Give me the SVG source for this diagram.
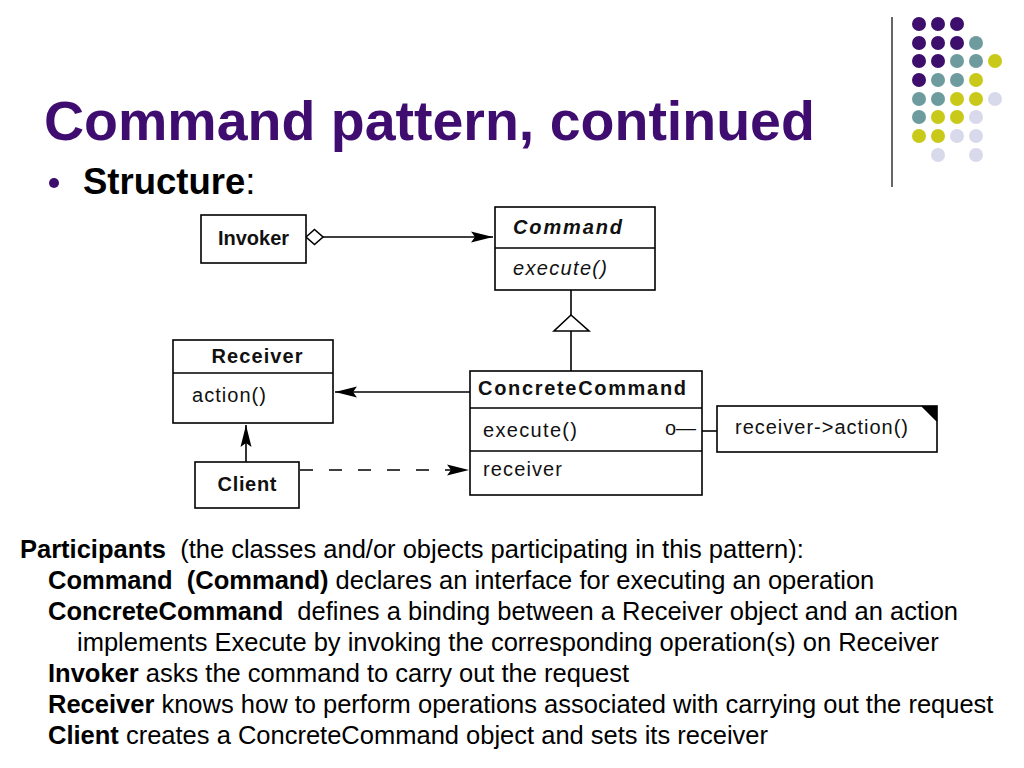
<svg xmlns="http://www.w3.org/2000/svg" width="1024" height="768" viewBox="0 0 1024 768">
<defs>
<style>
.box{fill:#fff;stroke:#000;stroke-width:1.6}
.ln{fill:none;stroke:#000;stroke-width:1.6}
.d{font-family:"Liberation Sans",Arial,sans-serif;font-size:20px;fill:#111}
.b{font-weight:bold}
.i{font-style:italic}
.body{font-family:"Liberation Sans",Arial,sans-serif;font-size:25.5px;fill:#000}
.p{fill:#3d0e6b}.t{fill:#6e9c9e}.y{fill:#c9c91a}.l{fill:#d9d9ec}
</style>
<marker id="arr" viewBox="-23 -6 24 12" refX="0" refY="0" markerWidth="24" markerHeight="12" orient="auto" markerUnits="userSpaceOnUse">
<path d="M0,0 L-22,-5.5 L-18,0 L-22,5.5 Z" fill="#000"/>
</marker>
</defs>
<rect width="1024" height="768" fill="#fff"/>

<g id="decoration">
<line x1="892" y1="17" x2="892" y2="187" stroke="#333" stroke-width="1.5"/>
<circle class="p" cx="919" cy="24" r="7"/><circle class="p" cx="938" cy="24" r="7"/><circle class="p" cx="957" cy="24" r="7"/>
<circle class="p" cx="919" cy="43" r="7"/><circle class="p" cx="938" cy="43" r="7"/><circle class="p" cx="957" cy="43" r="7"/><circle class="t" cx="976" cy="43" r="7"/>
<circle class="p" cx="919" cy="61" r="7"/><circle class="p" cx="938" cy="61" r="7"/><circle class="t" cx="957" cy="61" r="7"/><circle class="t" cx="976" cy="61" r="7"/><circle class="y" cx="995" cy="61" r="7"/>
<circle class="p" cx="919" cy="80" r="7"/><circle class="t" cx="938" cy="80" r="7"/><circle class="t" cx="957" cy="80" r="7"/><circle class="y" cx="976" cy="80" r="7"/>
<circle class="t" cx="919" cy="99" r="7"/><circle class="t" cx="938" cy="99" r="7"/><circle class="y" cx="957" cy="99" r="7"/><circle class="y" cx="976" cy="99" r="7"/><circle class="l" cx="995" cy="99" r="7"/>
<circle class="t" cx="919" cy="117" r="7"/><circle class="y" cx="938" cy="117" r="7"/><circle class="y" cx="957" cy="117" r="7"/><circle class="l" cx="976" cy="117" r="7"/>
<circle class="y" cx="919" cy="136" r="7"/><circle class="y" cx="938" cy="136" r="7"/><circle class="l" cx="957" cy="136" r="7"/><circle class="l" cx="976" cy="136" r="7"/>
<circle class="l" cx="938" cy="155" r="7"/><circle class="l" cx="976" cy="155" r="7"/>
</g>

<g id="title">
<text x="44" y="140" font-family="'Liberation Sans',Arial,sans-serif" font-size="55.5" font-weight="bold" fill="#3f0c70">Command pattern, continued</text>
<circle cx="54" cy="183" r="5" fill="#3d0e6b"/>
<text x="83" y="194" font-family="'Liberation Sans',Arial,sans-serif" font-size="36.5" fill="#000"><tspan font-weight="bold">Structure</tspan>:</text>
</g>

<g id="connectors">
<line class="ln" x1="323" y1="237" x2="493" y2="237" marker-end="url(#arr)"/>
<polygon class="box" points="306,237 314.5,229.5 323,237 314.5,244.5"/>
<line class="ln" x1="571" y1="290" x2="571" y2="315"/>
<polygon class="box" points="571,315 554,331 589,331"/>
<line class="ln" x1="571" y1="331" x2="571" y2="371"/>
<line class="ln" x1="470" y1="392" x2="335" y2="392" marker-end="url(#arr)"/>
<line class="ln" x1="246" y1="462" x2="246" y2="425" marker-end="url(#arr)"/>
<line class="ln" x1="300" y1="470" x2="469" y2="470" stroke-dasharray="13 16" marker-end="url(#arr)"/>
<line class="ln" x1="702" y1="431" x2="718" y2="431"/>
</g>

<g id="invoker">
<rect class="box" x="201" y="215" width="105" height="48"/>
<text class="d b" x="253.5" y="245" text-anchor="middle">Invoker</text>
</g>

<g id="command">
<rect class="box" x="495" y="207" width="160" height="83"/>
<line class="ln" x1="495" y1="248" x2="655" y2="248"/>
<text class="d b i" x="513" y="234" textLength="109">Command</text>
<text class="d i" x="513" y="275" textLength="94">execute()</text>
</g>

<g id="receiver">
<rect class="box" x="173" y="340" width="160" height="83"/>
<line class="ln" x1="173" y1="373" x2="333" y2="373"/>
<text class="d b" x="257" y="363" text-anchor="middle" textLength="91">Receiver</text>
<text class="d" x="192" y="402" textLength="74">action()</text>
</g>

<g id="client">
<rect class="box" x="195" y="462" width="104" height="46"/>
<text class="d b" x="247" y="491" text-anchor="middle" textLength="59">Client</text>
</g>

<g id="concretecommand">
<rect class="box" x="470" y="371" width="232" height="124"/>
<line class="ln" x1="470" y1="408" x2="702" y2="408"/>
<line class="ln" x1="470" y1="451" x2="702" y2="451"/>
<text class="d b" x="478" y="395" textLength="208">ConcreteCommand</text>
<text class="d" x="483" y="437" textLength="94">execute()</text>
<text class="d" x="665" y="435" font-size="13">o—</text>
<text class="d" x="483" y="476" textLength="79">receiver</text>
</g>

<g id="note">
<rect class="box" x="717" y="406" width="220" height="46"/>
<path d="M922,406 L937,406 L937,421 Z" fill="#000"/>
<path d="M922,406 L937,421" class="ln" stroke-width="1"/>
<text class="d" x="735" y="434" textLength="173">receiver-&gt;action()</text>
</g>

<g id="participants">
<text class="body" x="20" y="558" xml:space="preserve"><tspan font-weight="bold">Participants</tspan>  (the classes and/or objects participating in this pattern):</text>
<text class="body" x="48" y="589" xml:space="preserve"><tspan font-weight="bold">Command  (Command)</tspan> declares an interface for executing an operation</text>
<text class="body" x="48" y="620" xml:space="preserve"><tspan font-weight="bold">ConcreteCommand</tspan>  defines a binding between a Receiver object and an action</text>
<text class="body" x="77" y="651">implements Execute by invoking the corresponding operation(s) on Receiver</text>
<text class="body" x="48" y="682"><tspan font-weight="bold">Invoker</tspan> asks the command to carry out the request</text>
<text class="body" x="48" y="713"><tspan font-weight="bold">Receiver</tspan> knows how to perform operations associated with carrying out the request</text>
<text class="body" x="48" y="744"><tspan font-weight="bold">Client</tspan> creates a ConcreteCommand object and sets its receiver</text>
</g>
</svg>
